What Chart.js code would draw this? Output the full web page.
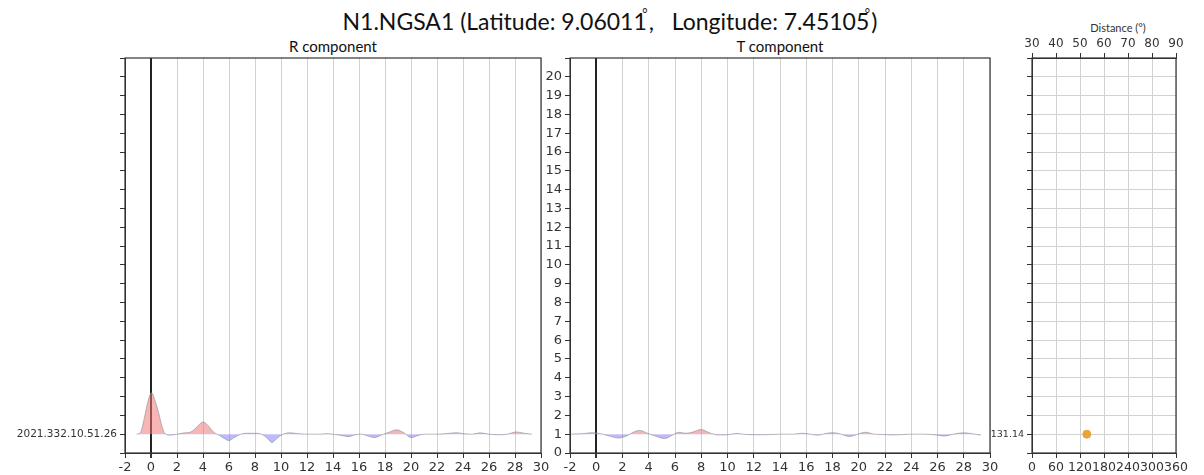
<!DOCTYPE html>
<html>
<head>
<meta charset="utf-8">
<script src="https://cdn.jsdelivr.net/npm/chart.js@4/dist/chart.umd.min.js"></script>
<style>
  body { margin: 0; background: #fff; }
  #wrap { position: relative; width: 1204px; height: 475px; overflow: hidden; }
  canvas { position: absolute; left: 0; top: 0; }
  .txt { position: absolute; font-family: Lato, "Open Sans", sans-serif; color: #111; white-space: nowrap; }
  .deg { position: relative; top: -0.95em; font-size: 0.55em; margin-left: -0.35em; margin-right: 0.1em; }
</style>
</head>
<body>
<div id="wrap">
  <div class="txt" style="left:8px;width:1204px;top:7px;text-align:center;font-size:23px;">N1.NGSA1 (Latitude: 9.06011<span class="deg">°</span>,&nbsp;&nbsp; Longitude: 7.45105<span class="deg">°</span>)</div>
  <div class="txt" style="left:233px;width:200px;top:37px;text-align:center;font-size:15px;">R component</div>
  <div class="txt" style="left:680px;width:200px;top:37px;text-align:center;font-size:15px;">T component</div>
  <div class="txt" style="left:1054px;width:128px;top:21px;text-align:center;font-size:11px;color:#333;">Distance (°)</div>
  <canvas id="rChart" width="1204" height="475"></canvas>
  <canvas id="tChart" width="1204" height="475"></canvas>
  <canvas id="dChart" width="1204" height="475"></canvas>
</div>
<script>
// R component trace (time, amplitude around baseline 1)
const rTimes = [-1.1, -0.8, -0.5, -0.25, 0.05, 0.3, 0.6, 0.85, 1.1, 1.5, 2, 2.6, 3, 3.4, 3.7, 4, 4.4, 4.8, 5.3, 5.7, 6, 6.4, 6.9, 7.4, 7.9, 8.5, 9, 9.3, 9.7, 10.1, 10.7, 11.3, 12, 13, 13.5, 14, 14.6, 15.2, 15.7, 16.2, 16.7, 17.2, 17.7, 18.3, 18.9, 19.5, 20, 20.5, 21, 22, 23, 23.5, 24.1, 24.7, 25.3, 26, 26.7, 27.4, 28.1, 28.7, 29.3];
const rValues = [1.0, 1.1, 1.9, 2.7, 3.2, 2.8, 2.1, 1.4, 1.02, 0.95, 1.0, 1.07, 1.1, 1.3, 1.5, 1.65, 1.45, 1.12, 0.92, 0.75, 0.66, 0.82, 1.0, 1.05, 1.05, 1.0, 0.75, 0.56, 0.78, 0.98, 1.07, 1.03, 1.0, 1.0, 1.03, 1.0, 0.94, 0.87, 0.97, 1.0, 0.9, 0.82, 0.95, 1.1, 1.23, 1.05, 0.82, 0.92, 1.0, 1.0, 1.05, 1.08, 1.02, 1.0, 1.07, 1.0, 0.97, 1.0, 1.12, 1.05, 1.0];

// T component trace
const tTimes = [-2, -1, -0.3, 0.5, 1, 1.7, 2.3, 2.8, 3.3, 3.9, 4.5, 5.2, 5.8, 6.3, 6.8, 7.3, 8, 8.6, 9.3, 10, 10.7, 11.3, 12.5, 13.3, 14, 15, 15.7, 16.3, 16.9, 17.5, 18, 18.5, 19.3, 20, 20.5, 21.2, 22, 22.6, 23.3, 24, 25, 26, 26.5, 27.2, 28, 28.6, 29.3];
const tValues = [1.0, 1.03, 1.08, 1.0, 0.9, 0.8, 0.9, 1.1, 1.2, 1.05, 0.9, 0.77, 0.95, 1.1, 1.05, 1.1, 1.25, 1.08, 0.96, 0.97, 1.04, 0.99, 0.97, 0.98, 1.0, 1.0, 1.05, 1.0, 0.95, 1.04, 1.08, 1.03, 0.88, 1.02, 1.1, 1.0, 0.98, 0.96, 0.98, 1.0, 1.0, 0.95, 0.9, 1.0, 1.07, 1.03, 0.95];

// station azimuth / trace index
const stationAz = [137];
const stationIdx = [1];
const stationLabel = '131.14';
const eventLabel = '2021.332.10.51.26';

const tickFont = { family: 'DejaVu Sans', size: 13 };
const gridGrey = '#d2d2d2';

const frame = {
  id: 'frame',
  afterDraw(chart) {
    const a = chart.chartArea, c = chart.ctx;
    c.save();
    c.strokeStyle = '#333';
    c.lineWidth = 1.2;
    c.strokeRect(a.left, a.top, a.right - a.left, a.bottom - a.top);
    c.restore();
  }
};

function traceChart(id, xs, ys, padLeft, yWidth, padRight, yLabel, yFont) {
  return new Chart(document.getElementById(id), {
    type: 'line',
    data: {
      datasets: [{
        data: xs.map((x, i) => ({ x: x, y: ys[i] })),
        borderColor: 'rgba(140,140,140,0.6)',
        borderWidth: 1,
        pointRadius: 0,
        cubicInterpolationMode: 'monotone',
        fill: { target: { value: 1 }, above: 'rgba(240,120,120,0.55)', below: 'rgba(120,120,255,0.5)' }
      }]
    },
    options: {
      responsive: false,
      animation: false,
      devicePixelRatio: 1,
      layout: { padding: { left: padLeft, right: padRight, top: 58, bottom: 0 } },
      plugins: { legend: { display: false }, tooltip: { enabled: false } },
      scales: {
        x: {
          type: 'linear', min: -2, max: 30,
          ticks: { stepSize: 2, font: tickFont, color: '#333', padding: 2, maxRotation: 0, autoSkip: false },
          grid: {
            color: c => c.tick && c.tick.value === 0 ? '#222' : gridGrey,
            lineWidth: c => c.tick && c.tick.value === 0 ? 2 : 1,
            tickColor: '#333', tickLength: 5
          },
          border: { color: '#333' },
          afterFit: s => { s.height = 22; }
        },
        y: {
          min: 0, max: 21,
          ticks: { stepSize: 1, autoSkip: false, font: yFont, color: '#333', padding: 3, callback: yLabel },
          grid: { drawOnChartArea: false, tickColor: '#333', tickLength: 5 },
          border: { color: '#333' },
          afterFit: s => { s.width = yWidth; }
        }
      }
    },
    plugins: [frame]
  });
}

traceChart('rChart', rTimes, rValues, 0, 125, 1204 - 541, v => v === 1 ? eventLabel : '', { family: 'DejaVu Sans', size: 10.5 });
traceChart('tChart', tTimes, tValues, 530, 40, 1204 - 990, v => v <= 20 ? String(v) : '', tickFont);

new Chart(document.getElementById('dChart'), {
  type: 'scatter',
  data: {
    datasets: [{
      data: stationAz.map((az, i) => ({ x: az, y: stationIdx[i] })),
      backgroundColor: '#e8a33a',
      borderColor: '#e8a33a',
      pointRadius: 4
    }]
  },
  options: {
    responsive: false,
    animation: false,
    devicePixelRatio: 1,
    layout: { padding: { left: 0, right: 1204 - 1176, top: 36, bottom: 0 } },
    plugins: { legend: { display: false }, tooltip: { enabled: false } },
    scales: {
      x: {
        type: 'linear', min: 0, max: 360,
        ticks: { stepSize: 60, font: { family: 'DejaVu Sans', size: 12.5 }, color: '#333', padding: 2, maxRotation: 0, autoSkip: false },
        grid: { color: gridGrey, tickColor: '#333', tickLength: 5 },
        border: { color: '#333' },
        afterFit: s => { s.height = 22; }
      },
      x2: {
        type: 'linear', position: 'top', min: 30, max: 90,
        ticks: { stepSize: 10, font: { family: 'DejaVu Sans', size: 12 }, color: '#333', padding: 2, maxRotation: 0, autoSkip: false },
        grid: { drawOnChartArea: false, tickColor: '#333', tickLength: 5 },
        border: { color: '#333' },
        afterFit: s => { s.height = 22; }
      },
      y: {
        min: 0, max: 21,
        ticks: { stepSize: 1, autoSkip: false, font: { family: 'DejaVu Sans', size: 9.5 }, color: '#333', padding: 3,
          callback: v => v === 1 ? stationLabel : '' },
        grid: { color: gridGrey, tickColor: '#333', tickLength: 5 },
        border: { color: '#333' },
        afterFit: s => { s.width = 1032; }
      }
    }
  },
  plugins: [frame]
});
</script>
</body>
</html>
